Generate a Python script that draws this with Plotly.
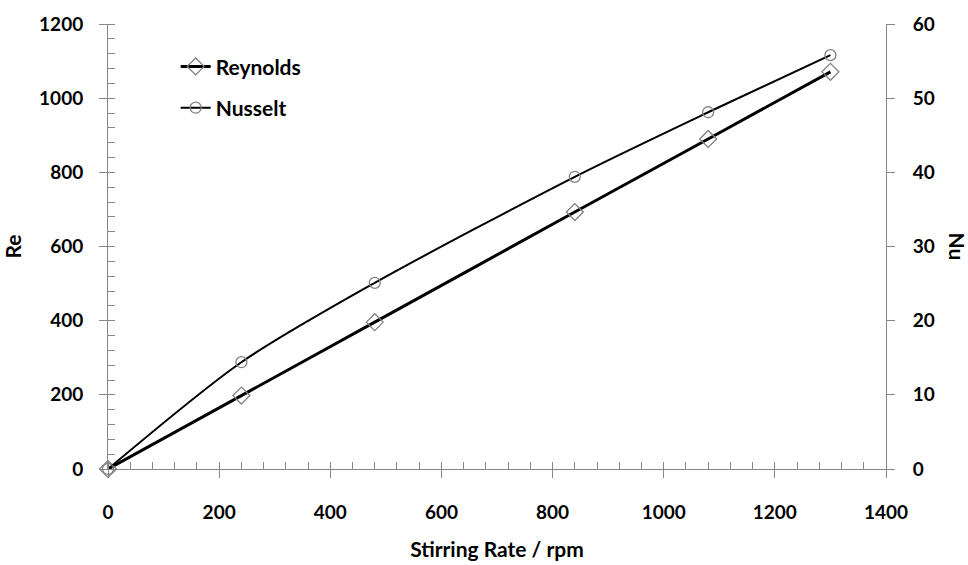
import plotly.graph_objects as go

# Stirring rate (rpm) and the corresponding dimensionless numbers
rpm = [0, 240, 480, 840, 1080, 1300]
reynolds = [0, 198, 396, 693, 890, 1071]
nusselt = [0, 14.4, 25.1, 39.4, 48.1, 55.8]

x_ticks = [0, 200, 400, 600, 800, 1000, 1200, 1400]
re_ticks = [0, 200, 400, 600, 800, 1000, 1200]
nu_ticks = [0, 10, 20, 30, 40, 50, 60]

AXIS_GREY = "#868686"
FAMILY = "Lato, 'Open Sans', sans-serif"
FONT = dict(family=FAMILY, size=19, color="black", weight="bold")
TITLE_FONT = dict(family=FAMILY, size=21, color="black", weight="bold")
LEGEND_FONT = dict(family=FAMILY, size=21, color="black", weight="bold")

fig = go.Figure()

fig.add_trace(go.Scatter(
    x=rpm, y=reynolds, name="Reynolds", mode="lines+markers",
    line=dict(color="black", width=3, shape="spline", smoothing=0.6),
    marker=dict(symbol="diamond-open", size=13, color="#808080", line=dict(width=1.3)),
    legendgroup="re", cliponaxis=False, yaxis="y",
))
fig.add_trace(go.Scatter(
    x=rpm, y=nusselt, name="Nusselt", mode="lines+markers",
    line=dict(color="black", width=2, shape="spline", smoothing=0.8),
    marker=dict(symbol="circle-open", size=11, color="#808080", line=dict(width=1.3)),
    legendgroup="nu", cliponaxis=False, yaxis="y2",
))

common = dict(showgrid=False, zeroline=False, linecolor=AXIS_GREY, linewidth=1,
              tickcolor=AXIS_GREY, tickwidth=1, tickfont=FONT, automargin=False)

fig.update_layout(
    width=968, height=565,
    margin=dict(l=108, r=82, t=24, b=96),
    paper_bgcolor="white", plot_bgcolor="white",
    font=FONT,
    showlegend=True,
    legend=dict(x=0.087, y=0.95, xanchor="left", yanchor="top",
                bgcolor="rgba(0,0,0,0)", font=LEGEND_FONT, tracegroupgap=11,
                itemwidth=30),
    xaxis=dict(range=[0, 1400], tickvals=x_ticks, ticks="outside", ticklen=8,
               showline=True, ticklabelstandoff=18,
               minor=dict(dtick=40, ticks="inside", ticklen=7, tickcolor=AXIS_GREY),
               title=dict(text="Stirring Rate / rpm", font=TITLE_FONT, standoff=20),
               **common),
    yaxis=dict(range=[0, 1200], tickvals=re_ticks, ticks="outside", ticklen=8,
               showline=True, ticklabelstandoff=12,
               minor=dict(dtick=40, ticks="inside", ticklen=7, tickcolor=AXIS_GREY),
               title=dict(text="Re", font=TITLE_FONT, standoff=12),
               **common),
    yaxis2=dict(range=[0, 60], tickvals=nu_ticks, ticks="outside", ticklen=8,
                overlaying="y", side="right", anchor="x",
                showline=True, ticklabelstandoff=14, **common),
    # inner halves of the major ticks, so they cross the axis lines
    xaxis3=dict(range=[0, 1400], tickvals=x_ticks, ticks="inside", ticklen=7,
                overlaying="x", anchor="y", showticklabels=False,
                showline=False, showgrid=False, zeroline=False,
                tickcolor=AXIS_GREY, tickwidth=1),
    yaxis3=dict(range=[0, 1200], tickvals=re_ticks[:-1], ticks="inside", ticklen=7,
                overlaying="y", anchor="x", side="left", showticklabels=False,
                showline=False, showgrid=False, zeroline=False,
                tickcolor=AXIS_GREY, tickwidth=1),
    annotations=[dict(text="Nu", x=1.0, xref="paper", xshift=71, y=0.5, yref="paper",
                      showarrow=False, textangle=90, font=TITLE_FONT,
                      xanchor="center", yanchor="middle")],
)

fig.write_html("out.html")
